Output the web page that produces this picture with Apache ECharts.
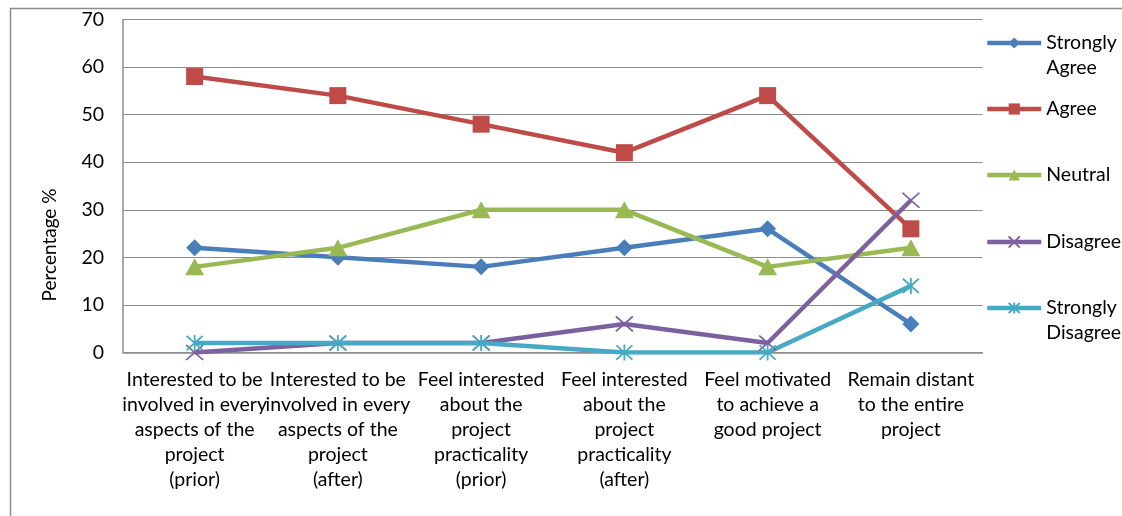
<!DOCTYPE html>
<html>
<head>
<meta charset="utf-8">
<script src="https://cdn.jsdelivr.net/npm/echarts@6/dist/echarts.min.js"></script>
<style>
  html, body { margin: 0; padding: 0; background: #fff; }
  #chart { width: 1122px; height: 516px; }
</style>
</head>
<body>
<div id="chart"></div>
<script>
// Survey statements (x axis) and response shares per answer
const categories = [
  'Interested to be\ninvolved in every\naspects of the\nproject\n(prior)',
  'Interested to be\ninvolved in every\naspects of the\nproject\n(after)',
  'Feel interested\nabout the\nproject\npracticality\n(prior)',
  'Feel interested\nabout the\nproject\npracticality\n(after)',
  'Feel motivated\nto achieve a\ngood project',
  'Remain distant\nto the entire\nproject'
];
const stronglyAgree    = [22, 20, 18, 22, 26, 6];
const agree            = [58, 54, 48, 42, 54, 26];
const neutral          = [18, 22, 30, 30, 18, 22];
const disagree         = [0, 2, 2, 6, 2, 32];
const stronglyDisagree = [2, 2, 2, 0, 0, 14];
const yTicks = [0, 10, 20, 30, 40, 50, 60, 70];

const FONT = 'Lato';
const FS = 19.5;
const GRID = '#8c8c8c';

const xMark = 'path://M0,0L16,14M16,0L0,14';
const starMark = 'path://M0,0L16,16M16,0L0,16M8,-1L8,17';

function lineSeries(name, data, color, symbol, size) {
  return {
    name, type: 'line', data,
    symbol, symbolSize: size,
    showAllSymbol: true,
    lineStyle: { color, width: 4.5 },
    itemStyle: { color, borderColor: color, borderWidth: symbol.startsWith('path') ? 1.8 : 0 },
    emphasis: { disabled: true },
    animation: false
  };
}

const series = [
  lineSeries('Strongly Agree', stronglyAgree, '#4a7ebb', 'diamond', 17),
  lineSeries('Agree', agree, '#be4b48', 'rect', 17),
  lineSeries('Neutral', neutral, '#98b954', 'triangle', [19, 17]),
  lineSeries('Disagree', disagree, '#7d60a0', xMark, [17, 15]),
  lineSeries('Strongly Disagree', stronglyDisagree, '#46aac5', starMark, [16, 16])
];

// Two-line entries get a leading empty line so the first word sits beside the icon
function legendFor(name, label, top) {
  return {
    data: [name],
    left: 985, top,
    padding: 0,
    itemWidth: 54, itemHeight: 14,
    selectedMode: false,
    lineStyle: { width: 4.5 },
    formatter: () => label,
    textStyle: { fontFamily: FONT, fontSize: FS, color: '#000', lineHeight: 25 }
  };
}

const chart = echarts.init(document.getElementById('chart'), null, { renderer: 'canvas' });
chart.setOption({
  backgroundColor: '#fff',
  animation: false,
  grid: { left: 123, right: 139.5, top: 19.5, bottom: 163.5, containLabel: false },
  xAxis: {
    type: 'category',
    data: categories,
    boundaryGap: true,
    axisLine: { lineStyle: { color: GRID, width: 1.5 } },
    axisTick: { show: false },
    axisLabel: {
      interval: 0, margin: 15,
      fontFamily: FONT, fontSize: FS, color: '#000', lineHeight: 25, align: 'center'
    }
  },
  yAxis: {
    type: 'value',
    min: yTicks[0], max: yTicks[yTicks.length - 1], interval: 10,
    axisLine: { show: true, lineStyle: { color: GRID, width: 1.5 } },
    axisTick: { show: false },
    splitLine: { lineStyle: { color: GRID, width: 1.2 } },
    axisLabel: { margin: 19, fontFamily: FONT, fontSize: FS, color: '#000' }
  },
  legend: [
    legendFor('Strongly Agree', ' \nStrongly\nAgree', 5.5),
    legendFor('Agree', 'Agree', 96.5),
    legendFor('Neutral', 'Neutral', 162.5),
    legendFor('Disagree', 'Disagree', 229.5),
    legendFor('Strongly Disagree', ' \nStrongly\nDisagree', 270.5)
  ],
  graphic: [
    {
      type: 'rect', left: 8, top: 6, silent: true,
      shape: { width: 1200, height: 600 },
      style: { fill: 'none', stroke: GRID, lineWidth: 1.5 }
    },
    {
      type: 'text', x: 50, y: 245, rotation: Math.PI / 2, silent: true,
      style: {
        text: 'Percentage %', fontFamily: FONT, fontSize: 19, fill: '#000',
        align: 'center', verticalAlign: 'middle'
      }
    }
  ],
  series
});
</script>
</body>
</html>
